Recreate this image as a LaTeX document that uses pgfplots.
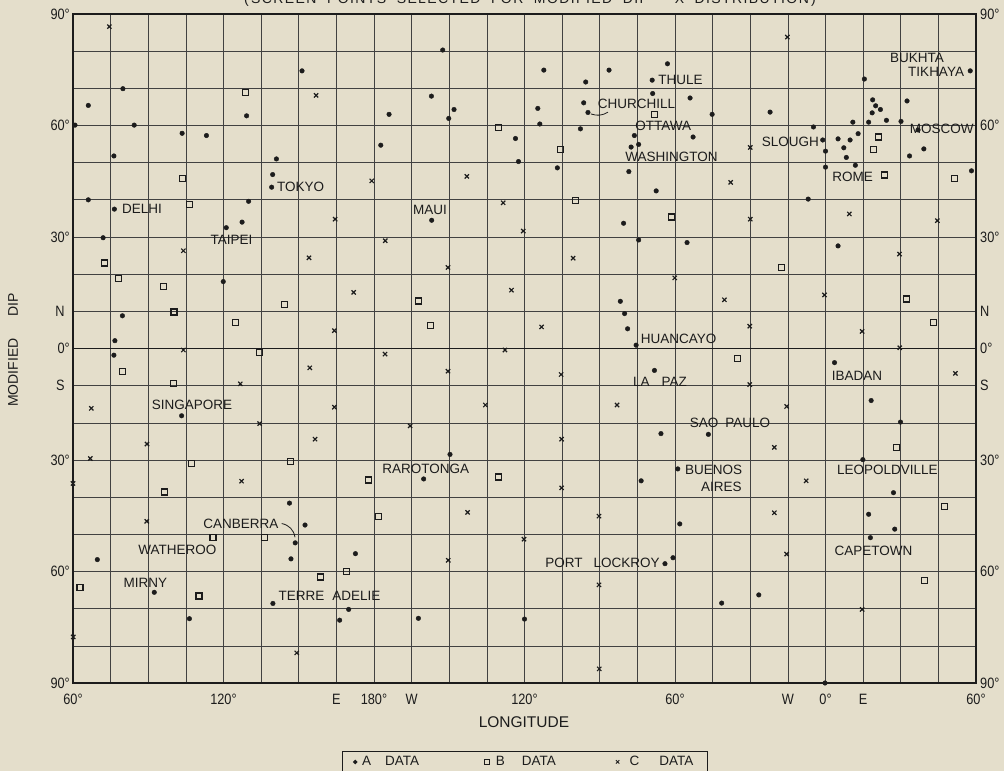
\documentclass[border=0pt]{standalone}
\usepackage{pgfplots}
\usepackage{pgfplotstable}
\pgfplotsset{compat=1.18}
\usepackage{fontspec}
\setmainfont{Liberation Sans}
\newfontfamily\tickfont[FakeStretch=0.85]{Liberation Sans}
\newfontfamily\titlefont[LetterSpace=10]{Liberation Sans}
\definecolor{bg}{RGB}{228,222,203}
\definecolor{ink}{RGB}{28,28,28}
\definecolor{gridc}{RGB}{65,65,65}
\newcommand{\lab}{\fontsize{13.5bp}{16bp}\selectfont}
\newcommand{\tk}{\tickfont\fontsize{15bp}{18bp}\selectfont}
\tikzset{lbl/.style={font=\lab, text=ink, inner sep=0pt}}

% A DATA (dots)
\pgfplotstableread{
lon dip
60.8 60.1
66.1 65.4
79.9 69.9
84.4 60.1
76.3 51.8
103.5 57.9
113.2 57.3
129.2 62.6
151.3 74.7
141.1 51.0
139.6 46.8
139.2 43.4
66.1 40.0
76.5 37.5
130.0 39.6
127.4 34.0
121.1 32.5
72.0 29.8
119.9 18.0
79.7 8.8
76.7 2.1
76.3 -1.8
103.3 -18.1
146.3 -41.6
152.5 -47.5
148.6 -52.3
146.9 -56.6
69.7 -56.8
92.4 -65.6
139.7 -68.6
106.4 -72.7
166.3 -73.1
172.6 -55.2
169.9 -70.2
197.7 -72.6
240.0 -72.8
210.3 -28.5
199.8 -35.1
203.0 34.5
207.4 80.3
202.9 67.9
186.0 63.0
211.9 64.3
209.8 61.9
182.7 54.7
247.7 74.9
273.7 74.9
297.0 76.6
290.9 72.2
264.4 71.7
291.1 68.6
245.3 64.6
246.1 60.4
263.6 66.1
265.3 63.5
236.4 56.5
262.3 59.1
283.8 57.3
282.5 54.2
285.5 54.9
237.6 50.3
253.1 48.6
281.6 47.6
292.5 42.4
279.5 33.7
285.5 29.2
306.0 67.4
314.8 63.0
337.9 63.6
307.2 56.9
304.8 28.5
375.5 72.5
417.7 74.7
355.2 59.6
358.9 56.1
360.0 53.1
360.0 48.8
365.0 56.4
369.8 56.1
367.3 54.0
368.3 51.4
373.0 57.8
371.9 49.3
370.9 60.9
377.2 60.9
378.6 63.4
378.8 66.9
380.0 65.3
381.9 64.3
384.3 61.4
390.1 61.1
392.5 66.6
396.9 58.8
399.2 53.7
393.5 51.8
418.2 47.8
353.1 40.2
365.0 27.6
278.2 12.7
279.9 9.4
281.1 5.3
284.5 0.9
291.8 -5.9
294.4 -22.9
286.5 -35.6
363.6 -3.8
378.2 -14.0
389.9 -19.8
313.3 -23.1
374.9 -29.9
301.1 -32.4
387.1 -38.8
301.9 -47.2
377.2 -44.6
387.6 -48.6
377.9 -50.9
299.2 -56.3
296.0 -57.9
333.4 -66.3
318.6 -68.5
359.8 -90.0
}\dataA

% B DATA (squares)
\pgfplotstableread{
lon dip
128.9 68.9
103.5 45.7
106.3 38.7
72.6 23.0
78.2 18.8
96.2 16.6
100.3 9.8
124.7 7.1
144.4 11.9
134.2 -1.0
79.8 -6.2
100.0 -9.5
107.4 -30.9
146.8 -30.4
96.5 -38.6
115.8 -50.9
136.3 -50.9
62.8 -64.2
110.2 -66.6
158.7 -61.5
169.1 -59.9
181.7 -45.1
177.9 -35.4
229.7 -34.6
197.7 12.8
202.5 6.1
229.7 59.4
254.4 53.6
260.4 39.9
291.7 63.0
298.6 35.4
342.5 21.7
325.0 -2.7
381.0 56.9
379.0 53.5
383.5 46.7
411.3 45.8
392.3 13.3
402.9 7.1
388.4 -26.6
407.3 -42.5
399.6 -62.5
}\dataB

% C DATA (crosses)
\pgfplotstableread{
lon dip
74.5 86.6
156.9 68.1
164.5 34.8
104.0 26.3
154.1 24.4
179.1 45.1
217.0 46.3
231.5 39.2
184.5 29.0
239.5 31.6
259.4 24.3
344.8 83.8
330.0 54.1
322.2 44.7
330.0 34.8
369.5 36.2
404.6 34.4
389.5 25.4
164.2 4.8
104.0 -0.4
154.4 -5.2
126.7 -9.5
67.3 -16.1
164.2 -15.8
134.4 -20.2
156.5 -24.4
89.5 -25.7
66.9 -29.6
60.0 -36.3
127.2 -35.7
209.5 21.8
171.9 15.1
234.8 15.7
246.8 5.8
184.4 -1.5
232.2 -0.4
209.5 -6.1
254.6 -7.0
224.4 -15.2
276.9 -15.2
194.4 -20.8
254.8 -24.4
254.8 -37.5
299.9 19.0
319.7 13.1
359.6 14.4
329.8 6.0
374.6 4.6
389.6 0.2
411.8 -6.7
329.8 -9.7
344.5 -15.6
339.6 -26.6
352.3 -35.6
89.4 -46.5
60.1 -77.6
149.2 -81.9
217.3 -44.1
269.7 -45.1
239.8 -51.3
209.6 -57.0
269.7 -63.6
269.8 -86.2
339.6 -44.2
344.5 -55.3
374.6 -70.2
}\dataC

\begin{document}
\begin{tikzpicture}
\fill[bg] (0bp,0bp) rectangle (1004bp,771bp);
\begin{axis}[
  at={(73bp,88bp)}, anchor=south west,
  scale only axis, width=903bp, height=669bp,
  xmin=60, xmax=420, ymin=-90, ymax=90,
  clip=false,
  axis line style={ink, line width=1.5bp},
  major tick length=0pt,
  xtick={60,75,...,420},
  xticklabels={{60°},{},{},{},{120°},{},{},{E},{180°},{W},{},{},{120°},{},{},{},{60°},{},{},{W},{0°},{E},{},{},{60°}},
  ytick={-90,-80,...,90},
  yticklabels={{90°},{},{},{60°},{},{},{30°},{},{S\hphantom{°}},{0°},{N\hphantom{°}},{},{30°},{},{},{60°},{},{},{90°}},
  grid=major,
  major grid style={gridc, line width=0.65bp},
  extra y ticks={0}, extra y tick labels={},
  extra y tick style={grid=major, major grid style={ink, line width=1.3bp}},
  tick label style={font=\tk, text=ink},
  xticklabel style={inner ysep=0pt, yshift=-11bp},
  yticklabel style={inner xsep=0pt, xshift=-3bp},
  xlabel={LONGITUDE},
  xlabel style={at={(axis description cs:0.4994,-0.0578)}, anchor=center, font=\fontsize{15.5bp}{18bp}\selectfont, text=ink},
  ylabel={MODIFIED\hspace{22bp}DIP},
  ylabel style={at={(axis description cs:-0.0664,0.498)}, anchor=center, font=\fontsize{14bp}{17bp}\selectfont, text=ink},
  legend columns=3,
  legend style={at={(axis description cs:0.2976,-0.1012)}, anchor=north west, draw=ink, line width=1bp, fill=none,
    font=\lab, text=ink, inner xsep=9bp, inner ysep=3.3bp,
    /tikz/every even column/.append style={column sep=17.7bp}},
]
\addplot[only marks, mark=*, mark size=2.3bp, color=ink, mark options={draw=ink, fill=ink},
  legend image code/.code={\node[inner sep=0pt, minimum width=8bp, minimum height=4bp] at (4bp,0bp) {};
    \draw[ink, only marks, mark=*, mark size=1.6bp, mark options={fill=ink}] plot coordinates {(4bp,0bp)};}]
  table[x=lon, y=dip] {\dataA};
\addlegendentry{\makebox[102bp][l]{\hspace{1bp}A\hspace{14bp}DATA}}
\addplot[only marks, mark=square, mark size=3bp, color=ink, line width=1.2bp,
  legend image code/.code={\node[inner sep=0pt, minimum width=8bp, minimum height=4bp] at (4bp,0bp) {};
    \draw[ink, only marks, mark=square, mark size=2.2bp, line width=0.9bp] plot coordinates {(4bp,0bp)};}]
  table[x=lon, y=dip] {\dataB};
\addlegendentry{\makebox[101bp][l]{\hspace{3bp}B\hspace{17bp}DATA}}
\addplot[only marks, mark=x, mark size=3bp, color=ink, line width=1.2bp,
  legend image code/.code={\node[inner sep=0pt, minimum width=8bp, minimum height=4bp] at (4bp,0bp) {};
    \draw[ink, only marks, mark=x, mark size=2.4bp, line width=0.9bp] plot coordinates {(4bp,0bp)};}]
  table[x=lon, y=dip] {\dataC};
\addlegendentry{\makebox[73bp][l]{\hspace{6bp}C\hspace{20bp}DATA}}

\node[lbl, anchor=west] at (axis cs:79.5,37.5) {DELHI};
\node[lbl, anchor=west] at (axis cs:141.3,43.5) {TOKYO};
\node[lbl] at (axis cs:123.2,29.2) {TAIPEI};
\node[lbl] at (axis cs:202.3,37.3) {MAUI};
\node[lbl, anchor=west] at (axis cs:269.2,65.9) {CHURCHILL};
\node[lbl, anchor=west] at (axis cs:293.3,72.2) {THULE};
\node[lbl, anchor=west] at (axis cs:284.1,59.9) {OTTAWA};
\node[lbl, anchor=west] at (axis cs:280.1,51.6) {WASHINGTON};
\node[lbl, anchor=east] at (axis cs:357.4,55.5) {SLOUGH};
\node[lbl] at (axis cs:370.8,46.2) {ROME};
\node[lbl] at (axis cs:396.5,78.1) {BUKHTA};
\node[lbl] at (axis cs:404.1,74.5) {TIKHAYA};
\node[lbl] at (axis cs:406.3,59.2) {MOSCOW};
\node[lbl] at (axis cs:107.4,-15.2) {SINGAPORE};
\node[lbl, anchor=west] at (axis cs:286.3,2.7) {HUANCAYO};
\node[lbl] at (axis cs:294.0,-8.9) {LA\hspace{12bp}PAZ};
\node[lbl] at (axis cs:372.6,-7.4) {IBADAN};
\node[lbl] at (axis cs:321.9,-19.9) {SAO\hspace{7bp}PAULO};
\node[lbl] at (axis cs:315.4,-32.7) {BUENOS};
\node[lbl] at (axis cs:318.5,-37.3) {AIRES};
\node[lbl] at (axis cs:384.7,-32.7) {LEOPOLDVILLE};
\node[lbl] at (axis cs:200.6,-32.4) {RAROTONGA};
\node[lbl] at (axis cs:126.9,-47.3) {CANBERRA};
\node[lbl] at (axis cs:101.6,-54.2) {WATHEROO};
\node[lbl] at (axis cs:88.9,-63.0) {MIRNY};
\node[lbl] at (axis cs:162.3,-66.5) {TERRE\hspace{8bp}ADELIE};
\node[lbl] at (axis cs:271.1,-57.8) {PORT\hspace{11bp}LOCKROY};
\node[lbl] at (axis cs:379.1,-54.5) {CAPETOWN};
\draw[ink, line width=0.8bp] (axis cs:273.3,63.6) to[bend left=25] (axis cs:266.5,63.1);
\draw[ink, line width=0.8bp] (axis cs:143.2,-47.1) to[bend left=35] (axis cs:148.5,-50.8);
\end{axis}
\begin{axis}[
  at={(73bp,88bp)}, anchor=south west,
  scale only axis, width=903bp, height=669bp,
  xmin=60, xmax=420, ymin=-90, ymax=90,
  axis x line=none, axis y line*=right,
  y axis line style={draw=none},
  major tick length=0pt,
  ytick={-90,-80,...,90},
  yticklabels={{90°},{},{},{60°},{},{},{30°},{},{S},{0°},{N},{},{30°},{},{},{60°},{},{},{90°}},
  yticklabel style={font=\tk, text=ink, inner xsep=0pt, xshift=4bp},
]
\end{axis}
\node[font=\titlefont\fontsize{14bp}{16bp}\selectfont, text=ink, anchor=base] at (530bp,767bp)
  {(\,SCREEN\ \ POINTS\ \ SELECTED\ \ FOR\ \ MODIFIED\ \ DIP\ \ -\ \ X\ \ DISTRIBUTION\,)};
\pgfresetboundingbox
\useasboundingbox (0bp,0bp) rectangle (1004bp,771bp);
\end{tikzpicture}
\end{document}
